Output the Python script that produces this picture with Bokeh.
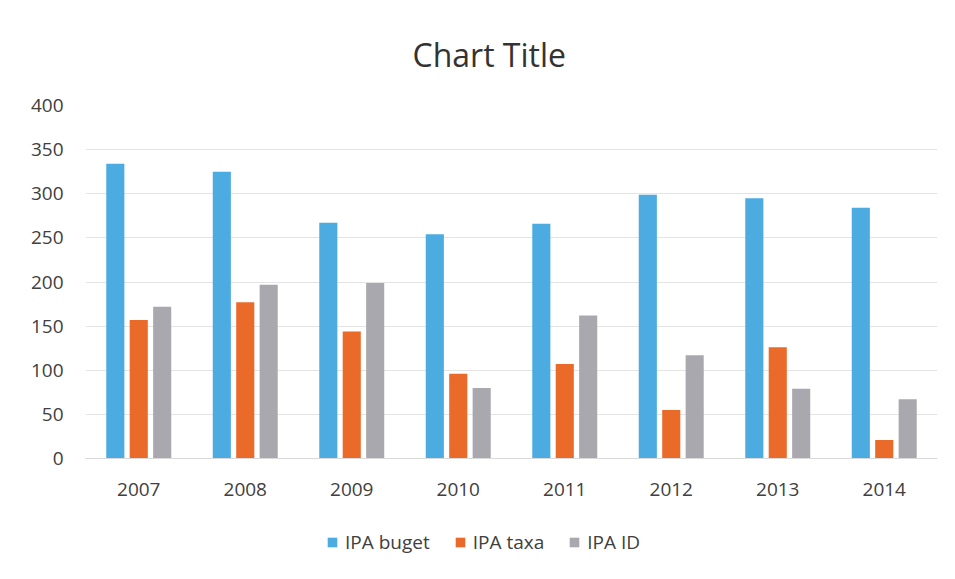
from bokeh.plotting import figure
from bokeh.layouts import column
from bokeh.models import FactorRange, Range1d, ColumnDataSource, Legend, LegendItem, SingleIntervalTicker
from bokeh.transform import dodge
from bokeh.embed import file_html
from bokeh.resources import INLINE

years = ["2007", "2008", "2009", "2010", "2011", "2012", "2013", "2014"]
ipa_buget = [334, 325, 267, 254, 266, 299, 295, 284]
ipa_taxa = [157, 177, 144, 96, 107, 55, 126, 21]
ipa_id = [172, 197, 199, 80, 162, 117, 79, 67]
series_names = ["IPA buget", "IPA taxa", "IPA ID"]
colors = ["#4CACE2", "#EA6A2A", "#A9A8AE"]
cols = ["buget", "taxa", "id"]
offsets = [-0.22, 0.0, 0.22]

src = ColumnDataSource(dict(years=years, buget=ipa_buget, taxa=ipa_taxa, id=ipa_id))

FONT = "Open Sans"

p = figure(width=945, height=515, output_backend="svg", toolbar_location=None,
           x_range=FactorRange(*years, range_padding=0), y_range=Range1d(0, 400),
           min_border_left=85, min_border_right=8, min_border_top=104, min_border_bottom=57)

p.title.text = "Chart Title"
p.title.align = "left"
p.title.offset = 327
p.title.text_font = FONT
p.title.text_font_size = "32px"
p.title.text_font_style = "normal"
p.title.text_color = "#333333"
p.title.standoff = 60

for c, off, col in zip(cols, offsets, colors):
    p.vbar(x=dodge("years", off, range=p.x_range), top=c, width=0.17, source=src,
           fill_color=col, line_color=None)

p.outline_line_color = None
p.xgrid.grid_line_color = None
p.ygrid.grid_line_color = "#e4e4e4"
p.ygrid.grid_line_width = 1

p.yaxis.ticker = SingleIntervalTicker(interval=50)
p.yaxis.axis_line_color = None
p.yaxis.major_tick_line_color = None
p.yaxis.minor_tick_line_color = None
p.yaxis.major_label_standoff = 16
p.xaxis.axis_line_color = "#d9d9d9"
p.xaxis.major_tick_line_color = None
p.xaxis.minor_tick_line_color = None
p.xaxis.major_label_standoff = 18
for ax in (p.xaxis, p.yaxis):
    ax.major_label_text_font = FONT
    ax.major_label_text_font_size = "19px"
    ax.major_label_text_color = "#404040"

# legend strip below the chart
p2 = figure(width=945, height=54, output_backend="svg", toolbar_location=None,
            x_range=p.x_range, y_range=Range1d(1000, 1001), min_border=0)
p2.axis.visible = False
p2.grid.grid_line_color = None
p2.outline_line_color = None
items = []
for c, off, col, name in zip(cols, offsets, colors, series_names):
    r = p2.vbar(x=dodge("years", off, range=p2.x_range), top=c, width=0.17, source=src,
                fill_color=col, line_color=None)
    items.append(LegendItem(label=name, renderers=[r]))

legend = Legend(items=items, orientation="horizontal", location=(241, 14),
                glyph_width=12, glyph_height=12, label_standoff=7, spacing=24,
                label_text_font=FONT, label_text_font_size="19px", label_text_color="#404040",
                border_line_color=None, background_fill_alpha=0, margin=0, padding=6)
p2.add_layout(legend, "center")

layout = column(p, p2, spacing=0)
open("out.html", "w").write(file_html(layout, INLINE))
